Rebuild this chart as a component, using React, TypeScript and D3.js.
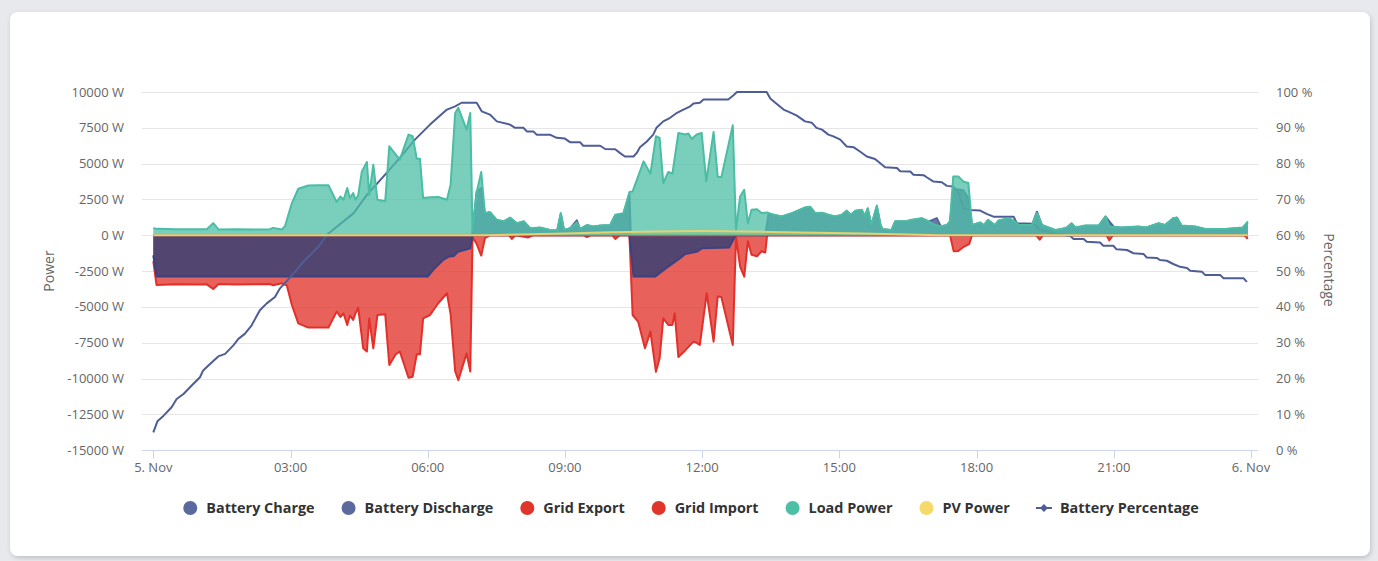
import React, { useEffect, useRef } from "react";
import * as d3 from "d3";

type Pt = [number, number]; // [hour of day, value]

// x axis: hours since 5. Nov 00:00
const timeTicks = [0, 3, 6, 9, 12, 15, 18, 21, 24];
const timeTickLabels = ["5. Nov", "03:00", "06:00", "09:00", "12:00", "15:00", "18:00", "21:00", "6. Nov"];
const powerTicks = [-15000, -12500, -10000, -7500, -5000, -2500, 0, 2500, 5000, 7500, 10000];
const percentTicks = [0, 10, 20, 30, 40, 50, 60, 70, 80, 90, 100];

// charging shown below zero
const batteryCharge: Pt[] = [
  [0, -1400], [0.07, -2880], [3.0, -2880], [6.0, -2880], [6.12, -2410], [6.34, -1710], [6.45, -1500],
  [6.57, -1450], [6.66, -1150], [6.78, -1050], [6.93, -900], [6.98, 0], [10.41, 0], [10.5, -2880],
  [10.97, -2880], [11.26, -2180], [11.51, -1610], [11.63, -1300], [11.88, -1150], [12.0, -900],
  [12.59, -850], [12.73, 0], [23.93, 0],
];

const batteryDischarge: Pt[] = [
  [0, 0], [6.97, 0], [7.07, 3060], [7.17, 3300], [7.25, 1500], [7.36, 1600], [7.51, 1050], [7.66, 950],
  [7.8, 1200], [7.95, 820], [8.1, 950], [8.24, 470], [8.46, 520], [8.68, 350], [8.83, 320], [8.91, 1500],
  [8.98, 350], [9.11, 470], [9.26, 1050], [9.33, 430], [9.48, 700], [9.62, 600], [9.77, 660], [9.99, 700],
  [10.1, 1400], [10.28, 1500], [10.41, 2900], [10.44, 0], [13.38, 0], [13.45, 1480], [13.52, 1460],
  [13.74, 1300], [13.96, 1530], [14.25, 1920], [14.36, 1980], [14.47, 1530], [14.62, 1560], [14.77, 1410],
  [14.91, 1300], [15.05, 1410], [15.16, 1700], [15.25, 1410], [15.35, 1700], [15.49, 1760], [15.56, 1300],
  [15.62, 1850], [15.7, 700], [15.82, 2000], [15.9, 700], [15.94, 430], [16.14, 360], [16.22, 960],
  [16.45, 960], [16.58, 1060], [16.8, 1180], [16.95, 960], [17.13, 1200], [17.22, 620], [17.35, 700],
  [17.42, 960], [17.49, 3200], [17.6, 3200], [17.71, 3150], [17.82, 2600], [17.9, 700], [18.08, 880],
  [18.16, 700], [18.25, 1060], [18.4, 700], [18.48, 1010], [18.7, 1180], [18.81, 1010], [18.92, 700],
  [19.21, 700], [19.32, 1650], [19.43, 700], [19.72, 360], [19.86, 430], [19.97, 530], [20.08, 820],
  [20.16, 530], [20.37, 660], [20.67, 660], [20.82, 1300], [20.92, 900], [21.0, 600], [21.15, 530],
  [21.54, 600], [21.7, 530], [21.98, 820], [22.12, 700], [22.3, 1180], [22.38, 1230], [22.48, 660],
  [22.78, 600], [23.0, 430], [23.43, 430], [23.82, 530], [23.93, 900],
];

const gridExport: Pt[] = [[0, 0], [23.93, 0]];

// import shown below zero
const gridImport: Pt[] = [
  [0, -1800], [0.07, -3460], [0.5, -3420], [1.0, -3440], [1.17, -3420], [1.31, -3750], [1.43, -3400],
  [1.8, -3430], [2.2, -3420], [2.55, -3400], [2.62, -3480], [2.81, -3350], [2.92, -3500], [3.03, -4860],
  [3.17, -6140], [3.39, -6440], [3.83, -6440], [4.01, -5320], [4.09, -5700], [4.16, -5450], [4.24, -6260],
  [4.3, -5600], [4.37, -5900], [4.42, -5450], [4.48, -5060], [4.59, -7880], [4.67, -8110], [4.72, -5800],
  [4.81, -7880], [4.9, -5560], [5.07, -5500], [5.16, -9050], [5.3, -8300], [5.39, -8110], [5.58, -9940],
  [5.67, -9870], [5.76, -8300], [5.83, -8300], [5.9, -5790], [6.05, -5560], [6.23, -4740], [6.42, -4040],
  [6.5, -5500], [6.6, -9470], [6.67, -10100], [6.85, -8240], [6.93, -9500], [6.98, -100], [7.07, -600],
  [7.17, -1410], [7.25, -200], [7.36, 0], [7.78, 0], [7.84, -250], [7.92, 0], [8.2, -150], [8.3, 0],
  [9.42, 0], [9.48, -120], [9.56, 0], [10.04, 0], [10.1, -250], [10.2, 0], [10.41, 0], [10.48, -5560],
  [10.6, -6020], [10.75, -7880], [10.87, -6720], [10.99, -9520], [11.07, -8580], [11.15, -5790],
  [11.26, -6250], [11.35, -6250], [11.4, -5440], [11.48, -8490], [11.63, -8030], [11.81, -7420],
  [11.88, -7500], [11.95, -7650], [12.1, -4040], [12.25, -7420], [12.34, -4270], [12.42, -4300],
  [12.67, -7650], [12.74, -100], [12.83, -2180], [12.92, -2880], [13.0, -410], [13.08, -1350],
  [13.2, -1460], [13.3, -1110], [13.38, -1200], [13.42, 0], [17.42, 0], [17.5, -1120], [17.6, -1100],
  [17.72, -800], [17.84, -600], [17.9, 0], [19.3, 0], [19.38, -300], [19.45, 0], [20.84, 0],
  [20.9, -350], [20.98, 0], [23.85, 0], [23.93, -250],
];

const loadPower: Pt[] = [
  [0, 500], [0.1, 450], [0.5, 430], [1.0, 420], [1.17, 430], [1.31, 850], [1.43, 400], [1.8, 420],
  [2.2, 410], [2.55, 430], [2.62, 520], [2.81, 400], [2.88, 650], [3.03, 2250], [3.17, 3250],
  [3.39, 3480], [3.6, 3500], [3.83, 3500], [4.01, 2320], [4.09, 2710], [4.16, 2480], [4.24, 3300],
  [4.3, 2600], [4.37, 2950], [4.42, 2480], [4.48, 2800], [4.56, 4460], [4.67, 5120], [4.72, 2800],
  [4.81, 4930], [4.9, 2480], [5.07, 2370], [5.16, 6210], [5.39, 5280], [5.58, 7030], [5.67, 6910],
  [5.76, 5350], [5.83, 5350], [5.9, 2600], [6.05, 2650], [6.23, 2680], [6.42, 2480], [6.5, 3530],
  [6.6, 8540], [6.67, 8890], [6.85, 7370], [6.93, 8540], [6.98, 300], [7.07, 3000], [7.17, 4420],
  [7.25, 1550], [7.36, 1620], [7.51, 1080], [7.66, 980], [7.8, 1240], [7.95, 840], [8.1, 980],
  [8.24, 490], [8.46, 540], [8.68, 370], [8.83, 330], [8.91, 1550], [8.98, 370], [9.11, 490],
  [9.26, 900], [9.33, 450], [9.48, 720], [9.62, 610], [9.77, 680], [9.99, 720], [10.1, 1430],
  [10.28, 1550], [10.41, 3020], [10.48, 3060], [10.72, 5160], [10.87, 4300], [10.99, 6910],
  [11.07, 6800], [11.15, 3650], [11.26, 4420], [11.35, 4300], [11.48, 7140], [11.63, 7030],
  [11.7, 7100], [11.77, 6730], [11.88, 7030], [11.99, 7140], [12.09, 3760], [12.25, 7210],
  [12.34, 4090], [12.42, 4050], [12.67, 7680], [12.74, 370], [12.83, 2710], [12.92, 3180], [13.0, 840],
  [13.08, 1780], [13.2, 1820], [13.3, 1550], [13.42, 1600], [13.52, 1480], [13.74, 1320], [13.96, 1550],
  [14.25, 1940], [14.36, 2000], [14.47, 1550], [14.62, 1580], [14.77, 1430], [14.91, 1320],
  [15.05, 1430], [15.16, 1720], [15.25, 1430], [15.35, 1720], [15.49, 1780], [15.56, 1320],
  [15.62, 1890], [15.7, 720], [15.82, 2080], [15.9, 720], [15.94, 440], [16.14, 370], [16.22, 980],
  [16.45, 980], [16.58, 1080], [16.8, 1200], [16.95, 980], [17.09, 720], [17.22, 640], [17.35, 720],
  [17.42, 980], [17.49, 4110], [17.6, 4110], [17.71, 3760], [17.82, 3650], [17.9, 720], [18.08, 900],
  [18.16, 720], [18.25, 1080], [18.4, 720], [18.48, 1030], [18.7, 1200], [18.81, 1030], [18.92, 720],
  [19.21, 720], [19.32, 1550], [19.43, 720], [19.72, 370], [19.86, 440], [19.97, 540], [20.08, 840],
  [20.16, 540], [20.37, 680], [20.67, 680], [20.82, 1320], [20.9, 610], [21.15, 540], [21.54, 610],
  [21.7, 540], [21.98, 840], [22.12, 720], [22.3, 1200], [22.38, 1250], [22.48, 680], [22.78, 610],
  [23.0, 440], [23.43, 440], [23.82, 540], [23.93, 980],
];

const pvPower: Pt[] = [
  [0, 0], [7.3, 0], [8.0, 50], [9.0, 130], [10.0, 210], [11.0, 270], [12.0, 300], [12.5, 290],
  [13.5, 240], [14.5, 180], [15.5, 120], [16.5, 50], [17.2, 0], [23.93, 0],
];

const batteryPercentage: Pt[] = [
  [0, 5.0], [0.09, 8.1], [0.22, 9.6], [0.4, 12.0], [0.51, 14.3], [0.66, 15.7], [0.84, 18.1], [1.02, 20.4],
  [1.09, 22.3], [1.24, 24.1], [1.42, 26.2], [1.57, 26.9], [1.75, 29.3], [1.86, 31.1], [2.0, 32.5],
  [2.15, 34.9], [2.33, 39.1], [2.48, 41.0], [2.66, 42.8], [2.77, 45.2], [2.95, 47.7], [3.13, 50.3],
  [3.25, 52.2], [3.43, 54.5], [3.61, 56.8], [3.79, 60.1], [4.38, 66.2], [4.67, 71.3], [5.03, 76.4],
  [5.39, 81.6], [5.72, 86.7], [6.05, 90.9], [6.42, 95.1], [6.6, 96.0], [6.74, 97.0], [7.07, 97.0],
  [7.18, 94.6], [7.36, 93.7], [7.51, 91.8], [7.8, 90.9], [7.91, 90.0], [8.09, 90.0], [8.17, 89.0],
  [8.31, 89.0], [8.38, 88.1], [8.67, 88.1], [8.82, 87.2], [9.0, 87.0], [9.11, 86.0], [9.33, 86.0],
  [9.4, 85.0], [9.77, 85.0], [9.88, 84.1], [10.1, 84.0], [10.2, 83.0], [10.31, 82.0], [10.5, 82.0],
  [10.57, 83.0], [10.64, 84.6], [10.79, 86.2], [10.93, 88.1], [11.0, 90.0], [11.15, 91.8], [11.3, 92.8],
  [11.45, 94.2], [11.59, 95.1], [11.74, 96.0], [11.81, 96.8], [11.95, 97.0], [12.03, 97.9],
  [12.57, 97.9], [12.68, 99.0], [12.76, 100], [13.41, 100], [13.49, 98.2], [13.6, 97.0], [13.78, 95.1],
  [13.92, 94.3], [14.07, 93.4], [14.25, 91.8], [14.4, 91.4], [14.5, 90.0], [14.62, 89.5], [14.76, 88.1],
  [14.87, 87.6], [15.02, 86.7], [15.16, 84.8], [15.31, 84.6], [15.45, 83.4], [15.6, 82.0], [15.78, 81.3],
  [16.0, 79.0], [16.26, 78.8], [16.33, 77.9], [16.55, 77.8], [16.62, 76.9], [16.84, 76.8], [16.91, 76.2],
  [17.06, 75.0], [17.24, 74.8], [17.35, 73.8], [17.49, 73.6], [17.6, 72.2], [17.72, 67.4], [17.86, 67.1],
  [18.08, 66.9], [18.22, 66.0], [18.37, 65.2], [18.81, 65.2], [18.88, 63.4], [19.24, 63.2], [19.39, 61.5],
  [19.68, 60.6], [20.05, 59.8], [20.12, 59.0], [20.34, 59.0], [20.41, 58.2], [20.7, 58.0], [20.77, 57.1],
  [20.99, 57.1], [21.06, 56.1], [21.29, 55.9], [21.43, 55.0], [21.65, 54.8], [21.72, 53.8], [21.94, 53.7],
  [22.01, 53.1], [22.16, 52.9], [22.3, 52.0], [22.45, 51.2], [22.6, 50.9], [22.67, 50.1], [22.93, 49.8],
  [23.0, 48.9], [23.33, 48.9], [23.4, 48.0], [23.84, 48.0], [23.91, 47.0],
];

const legendItems = [
  { name: "Battery Charge", color: "#5b6a9e", symbol: "dot" },
  { name: "Battery Discharge", color: "#5b6a9e", symbol: "dot" },
  { name: "Grid Export", color: "#e0352a", symbol: "dot" },
  { name: "Grid Import", color: "#e0352a", symbol: "dot" },
  { name: "Load Power", color: "#4cbfa6", symbol: "dot" },
  { name: "PV Power", color: "#f7d96a", symbol: "dot" },
  { name: "Battery Percentage", color: "#4f5d96", symbol: "line" },
];

const W = 1378;
const H = 561;
const FONT = "'Open Sans', 'DejaVu Sans', sans-serif";

export default function App() {
  const svgRef = useRef<SVGSVGElement | null>(null);

  useEffect(() => {
    if (!svgRef.current) return;
    const root = d3.select(svgRef.current);
    root.selectAll("*").remove();

    // plot geometry
    const left = 153.3;
    const right = 1251;
    const top = 92;
    const bottom = 450.3;
    const gridLeft = 142;
    const gridRight = 1258;

    const x = d3.scaleLinear().domain([0, 24]).range([left, right]);
    const yP = d3.scaleLinear().domain([-15000, 10000]).range([bottom, top]);
    const yPct = d3.scaleLinear().domain([0, 100]).range([bottom, top]);

    // card + shadow
    const defs = root.append("defs");
    const f = defs.append("filter").attr("id", "cardShadow").attr("x", "-5%").attr("y", "-5%")
      .attr("width", "110%").attr("height", "115%");
    f.append("feDropShadow").attr("dx", 1).attr("dy", 2).attr("stdDeviation", 2.5)
      .attr("flood-color", "#000").attr("flood-opacity", 0.18);

    root.append("rect").attr("width", W).attr("height", H).attr("fill", "#e8e9ed");
    root.append("rect")
      .attr("x", 10).attr("y", 12).attr("width", 1360).attr("height", 544).attr("rx", 8)
      .attr("fill", "#ffffff").attr("filter", "url(#cardShadow)");

    const g = root.append("g");

    // gridlines
    g.append("g").selectAll("line")
      .data(powerTicks.filter((d) => d !== -15000))
      .join("line")
      .attr("x1", gridLeft).attr("x2", gridRight)
      .attr("y1", (d) => Math.round(yP(d)) + 0.5).attr("y2", (d) => Math.round(yP(d)) + 0.5)
      .attr("stroke", "#e6e6e6").attr("stroke-width", 1);

    // x axis line and ticks
    g.append("line")
      .attr("x1", gridLeft).attr("x2", gridRight)
      .attr("y1", Math.round(yP(-15000)) + 0.5).attr("y2", Math.round(yP(-15000)) + 0.5)
      .attr("stroke", "#ccd6eb").attr("stroke-width", 1);
    g.append("g").selectAll("line")
      .data(timeTicks)
      .join("line")
      .attr("x1", (d) => Math.round(x(d)) + 0.5).attr("x2", (d) => Math.round(x(d)) + 0.5)
      .attr("y1", bottom).attr("y2", bottom + 8)
      .attr("stroke", "#ccd6eb").attr("stroke-width", 1);

    // tick labels
    const tickText = (sel: any) =>
      sel.attr("font-family", FONT).attr("font-size", 13).attr("fill", "#666666");

    g.append("g").selectAll("text")
      .data(powerTicks)
      .join("text")
      .attr("x", 124).attr("y", (d) => yP(d) + 4.5)
      .attr("text-anchor", "end")
      .call(tickText)
      .text((d) => `${d} W`);

    g.append("g").selectAll("text")
      .data(percentTicks)
      .join("text")
      .attr("x", 1276).attr("y", (d) => yPct(d) + 4.5)
      .attr("text-anchor", "start")
      .call(tickText)
      .text((d) => `${d} %`);

    g.append("g").selectAll("text")
      .data(timeTicks)
      .join("text")
      .attr("x", (d) => x(d)).attr("y", 472)
      .attr("text-anchor", "middle")
      .call(tickText)
      .text((_d, i) => timeTickLabels[i]);

    // axis titles
    g.append("text")
      .attr("transform", `translate(54,271) rotate(-90)`)
      .attr("text-anchor", "middle")
      .attr("font-family", FONT).attr("font-size", 14).attr("fill", "#666666")
      .text("Power");
    g.append("text")
      .attr("transform", `translate(1324,270) rotate(90)`)
      .attr("text-anchor", "middle")
      .attr("font-family", FONT).attr("font-size", 14).attr("fill", "#666666")
      .text("Percentage");

    // series generators
    const area = d3.area<Pt>()
      .x((d) => x(d[0]))
      .y0(yP(0))
      .y1((d) => yP(d[1]));
    const line = d3.line<Pt>()
      .x((d) => x(d[0]))
      .y((d) => yP(d[1]));
    const pctLine = d3.line<Pt>()
      .x((d) => x(d[0]))
      .y((d) => yPct(d[1]));

    const drawFill = (data: Pt[], fill: string, fillOpacity: number) =>
      g.append("path").datum(data)
        .attr("d", area)
        .attr("fill", fill).attr("fill-opacity", fillOpacity);
    const drawStroke = (data: Pt[], stroke: string, strokeWidth = 2) =>
      g.append("path").datum(data)
        .attr("d", line)
        .attr("fill", "none")
        .attr("stroke", stroke).attr("stroke-width", strokeWidth)
        .attr("stroke-linejoin", "round");

    drawFill(gridImport, "#e2342b", 0.78);
    drawStroke(gridImport, "#e3302a");
    drawFill(batteryCharge, "#524670", 1);
    drawStroke(batteryCharge, "#3c4181");
    drawFill(batteryDischarge, "#5b6a9c", 0.9);
    drawStroke(batteryDischarge, "#55639b");
    drawFill(gridExport, "#e2342b", 0.78);
    drawStroke(gridExport, "#e3302a");

    g.append("path").datum(batteryPercentage)
      .attr("d", pctLine)
      .attr("fill", "none")
      .attr("stroke", "#4f5d96").attr("stroke-width", 2)
      .attr("stroke-linejoin", "round");

    // PV sits under the load fill, so it reads as a light green band
    drawFill(pvPower, "#f7d96a", 0.75);
    drawFill(loadPower, "#4cbfa6", 0.75);
    drawStroke(loadPower, "#4bbda4");
    drawStroke(pvPower, "#e6d070");

    // legend
    const legend = g.append("g");
    let cursor = 0;
    const items: { g: any; start: number }[] = [];
    legendItems.forEach((item) => {
      const ig = legend.append("g");
      if (item.symbol === "dot") {
        ig.append("circle").attr("cx", 0).attr("cy", 0).attr("r", 7).attr("fill", item.color);
      } else {
        ig.append("line").attr("x1", -8).attr("x2", 8).attr("y1", 0).attr("y2", 0)
          .attr("stroke", item.color).attr("stroke-width", 2);
        ig.append("path").attr("d", "M0,-4L4,0L0,4L-4,0Z").attr("fill", item.color);
      }
      const t = ig.append("text")
        .attr("x", 16).attr("y", 5)
        .attr("font-family", FONT).attr("font-size", 14.4).attr("font-weight", 700)
        .attr("fill", "#333333")
        .text(item.name);
      const w = (t.node() as SVGTextElement).getComputedTextLength();
      items.push({ g: ig, start: cursor });
      cursor += 16 + w + 34;
    });
    const total = cursor - 34 + 7;
    const x0 = 691 - total / 2 + 7;
    items.forEach((it) => it.g.attr("transform", `translate(${x0 + it.start},508)`));
  }, []);

  return (
    <div style={{ position: "fixed", left: 0, top: 0, width: W, height: H, background: "#e8e9ed" }}>
      <svg ref={svgRef} width={W} height={H} style={{ display: "block" }} />
    </div>
  );
}
